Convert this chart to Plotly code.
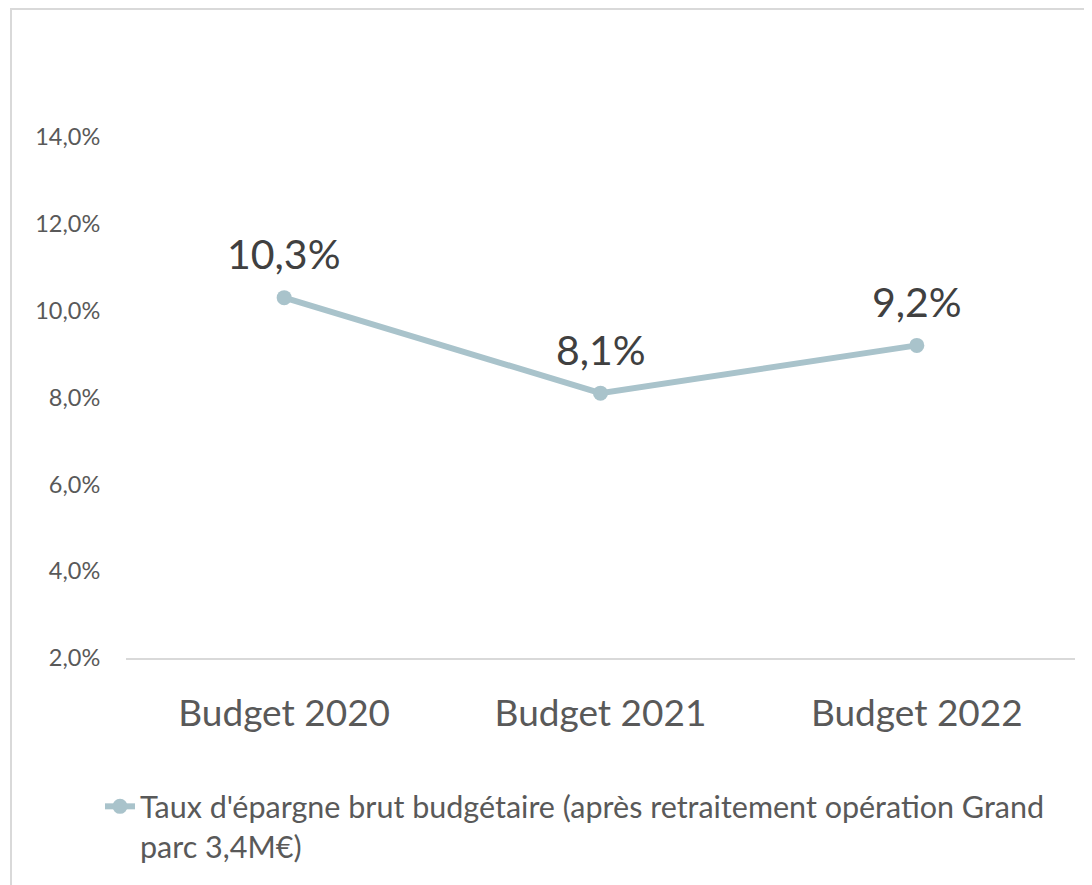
import plotly.graph_objects as go

categories = ["Budget 2020", "Budget 2021", "Budget 2022"]
values = [10.3, 8.1, 9.2]
value_labels = ["10,3%", "8,1%", "9,2%"]
tick_vals = [2, 4, 6, 8, 10, 12, 14]
tick_text = ["2,0%", "4,0%", "6,0%", "8,0%", "10,0%", "12,0%", "14,0%"]
series_name = "Taux d'épargne brut budgétaire (après retraitement opération Grand<br>parc 3,4M€)"

FONT = "Lato, 'Open Sans', sans-serif"
LINE_COLOR = "#A9C3CB"

OFF = 8  # page body margin
W, H = 1092 - OFF, 885 - OFF
L, R, T, B = 126 - OFF, 17, 137 - OFF, 885 - 658
pw, ph = W - L - R, H - T - B

def px_x(x):
    return (x - OFF - L) / pw

def px_y(y):
    return (H - B - (y - OFF)) / ph

fig = go.Figure()
fig.add_trace(go.Scatter(
    x=categories, y=values, mode="lines+markers", name=series_name,
    line=dict(color=LINE_COLOR, width=6),
    marker=dict(color=LINE_COLOR, size=15),
    showlegend=True,
))

for c, v, t in zip(categories, values, value_labels):
    fig.add_annotation(x=c, y=v, text=t, showarrow=False, yshift=44,
                       font=dict(family=FONT, size=41, color="#404040"))

fig.add_shape(type="rect", xref="paper", yref="paper",
              x0=px_x(11), x1=px_x(1110), y0=px_y(900), y1=px_y(9),
              line=dict(color="#D9D9D9", width=2), layer="below")

fig.update_layout(
    width=W, height=H,
    margin=dict(l=L, r=R, t=T, b=B),
    plot_bgcolor="white", paper_bgcolor="white",
    font=dict(family=FONT, color="#595959"),
    xaxis=dict(type="category", range=[-0.5, 2.5], showgrid=False,
               showline=True, linecolor="#D9D9D9", linewidth=2,
               ticks="outside", ticklen=22, tickcolor="rgba(0,0,0,0)",
               tickfont=dict(size=37, color="#595959"),
               zeroline=False, fixedrange=True),
    yaxis=dict(range=[2, 14], tickvals=tick_vals, ticktext=tick_text,
               showgrid=False, showline=False, zeroline=False, ticks="outside",
               ticklen=20, tickcolor="rgba(0,0,0,0)",
               tickfont=dict(size=23.5, color="#595959"), fixedrange=True),
    showlegend=True,
    legend=dict(x=px_x(100), y=px_y(780), xanchor="left", yanchor="top",
                orientation="h", valign="top",
                font=dict(family=FONT, size=30.5, color="#595959"),
                bgcolor="rgba(0,0,0,0)"),
)

fig.write_html("out.html")
